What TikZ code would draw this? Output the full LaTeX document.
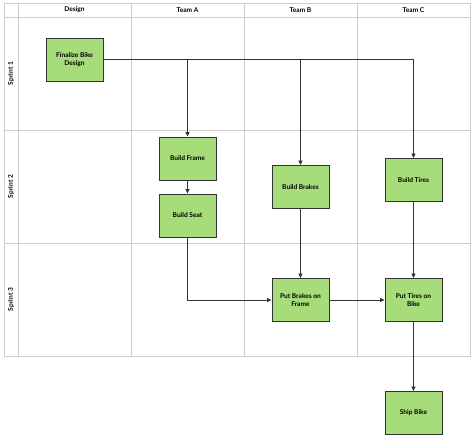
\documentclass[tikz,border=0pt]{standalone}
\usepackage{fontspec}
\setmainfont{Lato}
\usetikzlibrary{arrows.meta}
\definecolor{boxgreen}{HTML}{A6DC7A}
\definecolor{gridgray}{HTML}{CCCCCC}
\definecolor{edgegray}{HTML}{333333}
\begin{document}
\begin{tikzpicture}[x=1pt,y=-1pt,
  task/.style={draw=edgegray,line width=0.9pt,fill=boxgreen,minimum width=57pt,minimum height=43pt,inner sep=1pt,align=center,font=\fontsize{6.6}{8.5}\selectfont\bfseries},
  hdr/.style={font=\fontsize{6.6}{7}\selectfont\bfseries},
  lane/.style={draw=gridgray,line width=0.9pt},
  conn/.style={draw=edgegray,line width=0.8pt},
  arr/.style={conn,-{Triangle[length=4.5pt,width=4pt]}}]
\useasboundingbox (0,0) rectangle (474,439);
\fill[white] (0,0) rectangle (474,439);
% grid
\draw[lane] (4,3) rectangle (470,356);
\foreach \x in {18,131,244,357} \draw[lane] (\x,3) -- (\x,356);
\foreach \y in {17,130,243} \draw[lane] (4,\y) -- (470,\y);
% headers
\node[hdr] (hD) at (74.5,10) {Design};
\node[hdr] (hA) at (187.5,10) {Team A};
\node[hdr] (hB) at (300.5,10) {Team B};
\node[hdr] (hC) at (413.5,10) {Team C};
\node[hdr,rotate=90] (s1) at (11,73.5) {Sprint 1};
\node[hdr,rotate=90] (s2) at (11,186.5) {Sprint 2};
\node[hdr,rotate=90] (s3) at (11,299.5) {Sprint 3};
% tasks
\node[task] (fin) at (74.5,59.5) {Finalize Bike\\Design};
\node[task] (frame) at (187.5,158.5) {Build Frame};
\node[task] (seat) at (187.5,215.5) {Build Seat};
\node[task] (brakes) at (300.5,187) {Build Brakes};
\node[task] (tires) at (413.5,180) {Build Tires};
\node[task] (pbf) at (300.5,300) {Put Brakes on\\Frame};
\node[task] (ptb) at (413.5,300) {Put Tires on\\Bike};
\node[task] (ship) at (413.5,413) {Ship Bike};
% connectors
\coordinate (j1) at (frame.north |- fin.east);
\coordinate (j2) at (brakes.north |- fin.east);
\coordinate (j3) at (tires.north |- fin.east);
\draw[conn] (fin.east) -- (j3);
\draw[arr] (j1) -- (frame.north);
\draw[arr] (j2) -- (brakes.north);
\draw[arr] (j3) -- (tires.north);
\draw[arr] (frame.south) -- (seat.north);
\draw[arr] (seat.south) |- (pbf.west);
\draw[arr] (brakes.south) -- (pbf.north);
\draw[arr] (pbf.east) -- (ptb.west);
\draw[arr] (tires.south) -- (ptb.north);
\draw[arr] (ptb.south) -- (ship.north);
\end{tikzpicture}
\end{document}
